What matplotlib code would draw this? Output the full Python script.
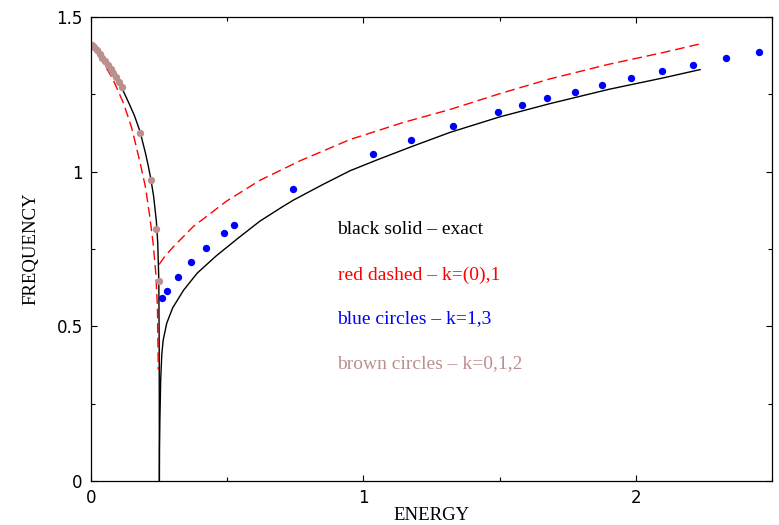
import matplotlib
matplotlib.use("Agg")
import matplotlib.pyplot as plt
from matplotlib.ticker import MultipleLocator

# ---- data ----
exact_left_E = [0.0, 0.02, 0.04, 0.06, 0.08, 0.10, 0.12, 0.14, 0.16, 0.18, 0.20, 0.21, 0.22, 0.23, 0.24, 0.245, 0.249, 0.2505, 0.251]
exact_left_w = [1.414, 1.395, 1.372, 1.347, 1.320, 1.292, 1.258, 1.220, 1.180, 1.130, 1.060, 1.020, 0.975, 0.920, 0.840, 0.770, 0.650, 0.40, 0.0]

exact_right_E = [0.251, 0.2515, 0.253, 0.256, 0.260, 0.265, 0.278, 0.30, 0.34, 0.39, 0.46, 0.54, 0.62, 0.70, 0.743,
                 0.85, 0.951, 1.05, 1.174, 1.318, 1.50, 1.685, 1.90, 2.10, 2.236]
exact_right_w = [0.0, 0.10, 0.20, 0.33, 0.41, 0.455, 0.51, 0.56, 0.617, 0.672, 0.728, 0.785, 0.840, 0.885, 0.908,
                 0.958, 1.003, 1.038, 1.080, 1.127, 1.177, 1.220, 1.266, 1.303, 1.330]

red_left_E = [0.0, 0.04, 0.08, 0.12, 0.15, 0.18, 0.20, 0.215, 0.228, 0.238, 0.244, 0.247]
red_left_w = [1.414, 1.360, 1.300, 1.220, 1.140, 1.030, 0.950, 0.860, 0.770, 0.670, 0.560, 0.360]

red_right_E = [0.250, 0.27, 0.30, 0.376, 0.498, 0.62, 0.767, 0.951, 1.15, 1.318, 1.50, 1.685, 1.90, 2.10, 2.245]
red_right_w = [0.700, 0.725, 0.755, 0.823, 0.905, 0.972, 1.035, 1.104, 1.160, 1.201, 1.252, 1.300, 1.347, 1.385, 1.415]

blue_E = [0.259, 0.278, 0.318, 0.366, 0.423, 0.488, 0.524, 0.743, 1.034, 1.174, 1.328, 1.495, 1.583, 1.675,
          1.777, 1.877, 1.984, 2.096, 2.209, 2.330, 2.453]
blue_w = [0.591, 0.614, 0.660, 0.707, 0.754, 0.801, 0.826, 0.943, 1.058, 1.104, 1.149, 1.193, 1.215, 1.237,
          1.259, 1.281, 1.302, 1.324, 1.345, 1.367, 1.388]

brown_E = [0.003, 0.012, 0.022, 0.032, 0.042, 0.052, 0.062, 0.072, 0.082, 0.092, 0.102, 0.113, 0.181, 0.221, 0.240, 0.251]
brown_w = [1.410, 1.403, 1.393, 1.381, 1.369, 1.357, 1.344, 1.331, 1.318, 1.305, 1.290, 1.273, 1.125, 0.974, 0.816, 0.646]

legend_lines = ["black solid \u2013 exact", "red dashed \u2013 k=(0),1", "blue circles \u2013 k=1,3", "brown circles \u2013 k=0,1,2"]
legend_colors = ["black", "#ff0000", "#0000ff", "#bc8f8f"]
legend_y = [0.541, 0.444, 0.351, 0.254]

x_major = [0, 1, 2]
y_major = [0, 0.5, 1, 1.5]

# ---- figure ----
fig = plt.figure(figsize=(7.79, 5.25), dpi=100)
ax = fig.add_axes([0.1168, 0.0838, 0.8742, 0.8838])

ax.plot(exact_left_E, exact_left_w, color="black", lw=1.0)
ax.plot(exact_right_E, exact_right_w, color="black", lw=1.0)
ax.plot(red_left_E, red_left_w, color="#ff0000", lw=1.0, dashes=(7, 3.5))
ax.plot(red_right_E, red_right_w, color="#ff0000", lw=1.0, dashes=(7, 3.5))
ax.plot(blue_E, blue_w, linestyle="none", marker="o", ms=5.3, color="#0000ff", mec="none")
ax.plot(brown_E, brown_w, linestyle="none", marker="o", ms=5.3, color="#bc8f8f", mec="none")

ax.set_xlim(0, 2.5)
ax.set_ylim(0, 1.5)
ax.set_xticks(x_major)
ax.set_yticks(y_major)
ax.set_xticklabels(["0", "1", "2"])
ax.set_yticklabels(["0", "0.5", "1", "1.5"])
ax.xaxis.set_minor_locator(MultipleLocator(0.5))
ax.yaxis.set_minor_locator(MultipleLocator(0.25))
ax.tick_params(which="both", direction="in", top=True, right=True, width=0.8, colors="black")
ax.tick_params(which="major", length=4.5, labelsize=12, pad=6)
ax.tick_params(which="minor", length=3)
for lab in ax.get_xticklabels() + ax.get_yticklabels():
    lab.set_family("DejaVu Sans")
for s in ax.spines.values():
    s.set_linewidth(0.9)

ax.set_xlabel("ENERGY", family="Liberation Serif", fontsize=13.5, labelpad=0)
ax.set_ylabel("FREQUENCY", family="Liberation Serif", fontsize=13.5, labelpad=12)

for txt, c, yy in zip(legend_lines, legend_colors, legend_y):
    ax.text(0.362, yy, txt, transform=ax.transAxes, color=c, family="Liberation Serif",
            fontsize=14, va="center", ha="left")

fig.savefig("out.png", dpi=100)
